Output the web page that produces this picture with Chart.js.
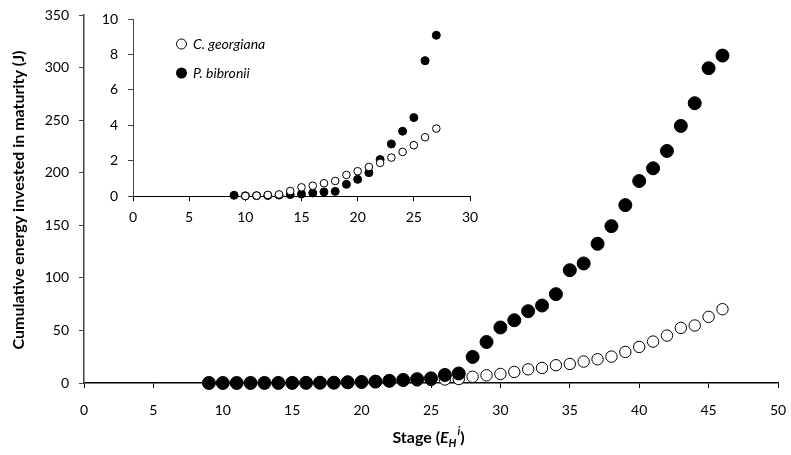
<!DOCTYPE html>
<html>
<head>
<meta charset="utf-8">
<script src="https://cdn.jsdelivr.net/npm/chart.js@4.4.0/dist/chart.umd.min.js"></script>
<style>
  body { margin: 0; background: #fff; }
  #wrap { position: relative; width: 791px; height: 455px; }
  #main { position: absolute; left: 0; top: 0; }
  #inset { position: absolute; left: 95px; top: 0; }
</style>
</head>
<body>
<div id="wrap">
  <canvas id="main" width="791" height="455"></canvas>
  <canvas id="inset" width="385" height="225"></canvas>
</div>
<script>
// stage numbers
const stages = [9, 10, 11, 12, 13, 14, 15, 16, 17, 18, 19, 20, 21, 22, 23, 24, 25, 26, 27,
                28, 29, 30, 31, 32, 33, 34, 35, 36, 37, 38, 39, 40, 41, 42, 43, 44, 45, 46];
// P. bibronii (filled)
const bibronii = [0.04, 0.01, 0.02, 0.03, 0.05, 0.08, 0.11, 0.17, 0.23, 0.26, 0.66, 0.94, 1.32, 2.06, 2.94, 3.66, 4.43, 7.64, 9.08,
                  24.8, 39.0, 52.8, 59.7, 68.3, 73.7, 84.5, 107.3, 113.7, 132.4, 149.2, 169.2, 192.1, 204.2, 220.7, 244.5, 266.1, 299.4, 311.4];
// C. georgiana (open)
const georgiana = [null, 0.0, 0.02, 0.06, 0.09, 0.28, 0.49, 0.58, 0.72, 0.85, 1.19, 1.40, 1.64, 1.87, 2.17, 2.49, 2.87, 3.32, 3.81,
                   5.9, 7.3, 8.6, 10.5, 13.0, 14.3, 16.9, 18.1, 20.4, 22.6, 25.1, 29.5, 34.3, 39.4, 45.1, 52.4, 54.7, 62.9, 70.2];
const insetMaxStage = 27;

const labelBib = 'P. bibronii';
const labelGeo = 'C. georgiana';

function pts(vals, maxStage) {
    let out = [];
    stages.forEach(function(s, i) {
        if (vals[i] !== null && s <= maxStage) out.push({ x: s, y: vals[i] });
    });
    return out;
}

const tickFont = { family: 'Lato', size: 14 };

function axis(min, max, step, lineColor, lineW, pad, fit) {
    return {
        type: 'linear', min: min, max: max,
        ticks: { stepSize: step, color: '#000', font: tickFont, padding: pad },
        grid: { drawOnChartArea: false, drawTicks: true, tickLength: 5, color: lineColor, lineWidth: 1 },
        border: { display: true, color: lineColor, width: lineW },
        afterFit: fit
    };
}

// axis titles with sub/superscript
const titles = {
    id: 'titles',
    afterDraw(chart) {
        const c = chart.ctx;
        c.save();
        c.fillStyle = '#000';
        // y title
        c.translate(19, 200);
        c.rotate(-Math.PI / 2);
        c.font = 'bold 16px Lato';
        c.textAlign = 'center';
        c.textBaseline = 'middle';
        c.fillText('Cumulative energy invested in maturity (J)', 0, 0);
        c.restore();

        c.save();
        c.fillStyle = '#000';
        c.textBaseline = 'alphabetic';
        const parts = [
            ['Stage (', 'bold 16px Lato', 0],
            ['E', 'italic bold 16px Lato', 0],
            ['H', 'italic bold 11px Lato', 4],
            ['i', 'italic bold 11px Lato', -8],
            [')', 'bold 16px Lato', 0]
        ];
        let w = 0;
        parts.forEach(function(p) { c.font = p[1]; w += c.measureText(p[0]).width; });
        let x = 428 - w / 2;
        parts.forEach(function(p) {
            c.font = p[1];
            c.fillText(p[0], x, 443 + p[2]);
            x += c.measureText(p[0]).width + (p[0] === 'H' ? 1 : 0);
        });
        c.restore();
    }
};

new Chart(document.getElementById('main'), {
    type: 'scatter',
    data: {
        datasets: [{
            label: labelBib,
            data: pts(bibronii, 99),
            pointRadius: 6.5,
            backgroundColor: '#000',
            borderColor: '#000',
            borderWidth: 1,
            order: 0,
            clip: false
        }, {
            label: labelGeo,
            data: pts(georgiana, 99),
            pointRadius: 5.7,
            backgroundColor: '#fff',
            borderColor: '#000',
            borderWidth: 1,
            order: 1,
            clip: false
        }]
    },
    options: {
        responsive: false,
        animation: false,
        devicePixelRatio: 1,
        layout: { padding: { top: 15, right: 13, left: 0, bottom: 0 } },
        plugins: { legend: { display: false }, tooltip: { enabled: false } },
        scales: {
            x: axis(0, 50, 5, '#000', 1.5, 14, function(s) { s.height = 72; s.paddingLeft = 0; s.paddingRight = 0; }),
            y: axis(0, 350, 50, '#444', 1.5, 10, function(s) { s.width = 84; s.paddingTop = 0; s.paddingBottom = 0; })
        }
    },
    plugins: [titles]
});

// legend inside inset
const insetLegend = {
    id: 'insetLegend',
    afterDraw(chart) {
        const c = chart.ctx;
        c.save();
        c.font = 'italic 14px Lato';
        c.fillStyle = '#000';
        c.textBaseline = 'middle';
        c.lineWidth = 1;
        c.strokeStyle = '#000';
        c.beginPath();
        c.arc(86.5, 44, 5, 0, Math.PI * 2);
        c.fillStyle = '#fff';
        c.fill();
        c.stroke();
        c.fillStyle = '#000';
        c.fillText(labelGeo, 98, 44);
        c.beginPath();
        c.arc(86.5, 73, 5.5, 0, Math.PI * 2);
        c.fill();
        c.fillText(labelBib, 98, 73);
        c.restore();
    }
};

new Chart(document.getElementById('inset'), {
    type: 'scatter',
    data: {
        datasets: [{
            label: labelGeo,
            data: pts(georgiana, insetMaxStage),
            pointRadius: 3.8,
            backgroundColor: '#fff',
            borderColor: '#000',
            borderWidth: 1,
            order: 0,
            clip: false
        }, {
            label: labelBib,
            data: pts(bibronii, insetMaxStage),
            pointRadius: 4,
            backgroundColor: '#000',
            borderColor: '#000',
            borderWidth: 1,
            order: 1,
            clip: false
        }]
    },
    options: {
        responsive: false,
        animation: false,
        devicePixelRatio: 1,
        layout: { padding: { top: 19, right: 10, left: 0, bottom: 0 } },
        plugins: { legend: { display: false }, tooltip: { enabled: false } },
        scales: {
            x: axis(0, 30, 5, '#000', 1, 8, function(s) { s.height = 29; s.paddingLeft = 0; s.paddingRight = 0; }),
            y: axis(0, 10, 2, '#444', 1, 10, function(s) { s.width = 38; s.paddingTop = 0; s.paddingBottom = 0; })
        }
    },
    plugins: [insetLegend]
});
</script>
</body>
</html>
